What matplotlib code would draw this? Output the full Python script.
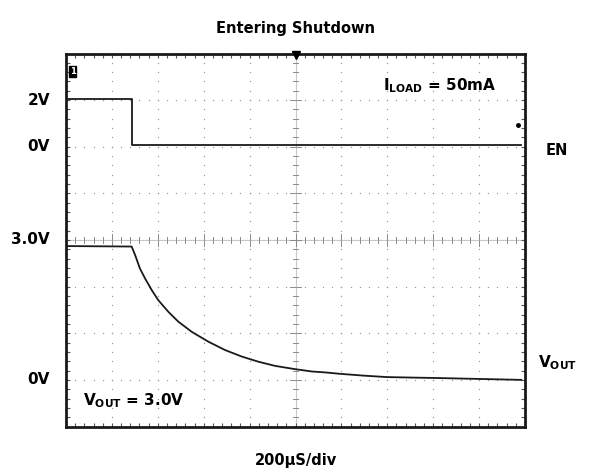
import numpy as np
import matplotlib
matplotlib.use("Agg")
import matplotlib.pyplot as plt

plt.rcParams['font.family'] = ['DejaVu Sans']
plt.rcParams['font.weight'] = 'bold'
plt.rcParams['mathtext.fontset'] = 'custom'
plt.rcParams['mathtext.rm'] = 'DejaVu Sans:bold'
plt.rcParams['mathtext.it'] = 'DejaVu Sans:bold'

# scope settings
us_per_div = 200
en_volts_per_div = 2.0
en_zero_div = 6.03
vout_volts_per_div = 1.0
vout_zero_div = 1.0

# EN trace (time in us, volts)
en_time = [0, 286, 286, 1984]
en_volts = [2.0, 2.0, 0.0, 0.0]

# VOUT trace (time in us, volts)
vout_time = [0, 286, 301, 322, 344, 373, 402, 446, 489, 548, 620, 693, 766,
             838, 911, 998, 1071, 1129, 1194, 1300, 1398, 1500, 1616, 1800, 1984]
vout_volts = [2.87, 2.86, 2.68, 2.39, 2.18, 1.93, 1.71, 1.46, 1.25, 1.03, 0.82,
              0.64, 0.50, 0.39, 0.30, 0.23, 0.18, 0.16, 0.13, 0.09, 0.06, 0.05,
              0.04, 0.02, 0.0]

left_labels = ["2V", "0V", "3.0V", "0V"]
left_label_divs = [en_zero_div + 2.0 / en_volts_per_div - 0.03, en_zero_div - 0.03,
                   vout_zero_div + 3.0 / vout_volts_per_div, vout_zero_div]

fig = plt.figure(figsize=(5.89, 4.72), dpi=100)
ax = fig.add_axes([66 / 589, 1 - 426.5 / 472, 459 / 589, 373 / 472])
ax.set_xlim(0, 10)
ax.set_ylim(0, 8)

# dotted graticule
grid_col = '#9a9a9a'
dots = np.arange(0, 10.01, 0.2)
for gy in range(1, 8):
    if gy == 4:
        continue
    ax.plot(dots, np.full_like(dots, gy), ls='none', marker='o', ms=1.0,
            color=grid_col, mec='none')
dots_v = np.arange(0, 8.01, 0.2)
for gx in range(1, 10):
    if gx == 5:
        continue
    ax.plot(np.full_like(dots_v, gx), dots_v, ls='none', marker='o', ms=1.0,
            color=grid_col, mec='none')

# center axes with minor ticks
ax.axhline(4, color='#c8c8c8', lw=0.8, zorder=1)
ax.axvline(5, color='#c8c8c8', lw=0.8, zorder=1)
for tx in dots:
    h = 0.12 if abs(tx - round(tx)) < 1e-6 else 0.06
    ax.plot([tx, tx], [4 - h, 4 + h], color='#8a8a8a', lw=0.7, zorder=1)
for ty in dots_v:
    h = 0.12 if abs(ty - round(ty)) < 1e-6 else 0.06
    ax.plot([5 - h, 5 + h], [ty, ty], color='#8a8a8a', lw=0.7, zorder=1)

# traces
en_x = np.array(en_time) / us_per_div
en_y = en_zero_div + np.array(en_volts) / en_volts_per_div
ax.plot(en_x, en_y, color='#1a1a1a', lw=1.3, zorder=3)

vout_x = np.array(vout_time) / us_per_div
vout_y = vout_zero_div + np.array(vout_volts) / vout_volts_per_div
ax.plot(vout_x, vout_y, color='#1a1a1a', lw=1.3, zorder=3)

# markers on the screen
ax.plot([5], [7.97], marker='v', color='black', ms=6, clip_on=False, zorder=4)
ax.plot([9.84], [6.47], marker='o', color='black', ms=2.5, zorder=4)
ax.text(0.08, 7.62, "1", fontsize=6, color='white', ha='left', va='center',
        bbox=dict(boxstyle='square,pad=0.1', fc='black', ec='black'))

# frame and edge ticks
for s in ax.spines.values():
    s.set_linewidth(2.0)
    s.set_color('#1a1a1a')
ax.set_xticks(np.arange(0, 10.01, 0.2), minor=True)
ax.set_yticks(np.arange(0, 8.01, 0.2), minor=True)
ax.set_xticks([])
ax.set_yticks([])
ax.tick_params(which='minor', direction='in', length=3, width=0.8,
               top=True, right=True, labelbottom=False, labelleft=False,
               color='#555555')

# labels
for lab, yd in zip(left_labels, left_label_divs):
    ax.text(-0.35, yd, lab, ha='right', va='center', fontsize=11,
            fontweight='bold', clip_on=False)
ax.text(10.44, 5.93, "EN", ha='left', va='center', fontsize=10.5,
        fontweight='bold', clip_on=False)
ax.text(10.28, 1.38, r"V$_{\mathrm{OUT}}$", ha='left', va='center', fontsize=11,
        fontweight='bold', clip_on=False)
ax.text(6.9, 7.3, r"I$_{\mathrm{LOAD}}$ = 50mA", ha='left', va='center',
        fontsize=11, fontweight='bold')
ax.text(0.37, 0.55, r"V$_{\mathrm{OUT}}$ = 3.0V", ha='left', va='center',
        fontsize=11, fontweight='bold')

fig.text(296 / 589, 1 - 29 / 472, "Entering Shutdown", ha='center', va='center',
         fontsize=10.5, fontweight='bold')
fig.text(296 / 589, 1 - 461 / 472, "200µS/div", ha='center', va='center',
         fontsize=10.5, fontweight='bold')

fig.savefig("out.png", dpi=100)
